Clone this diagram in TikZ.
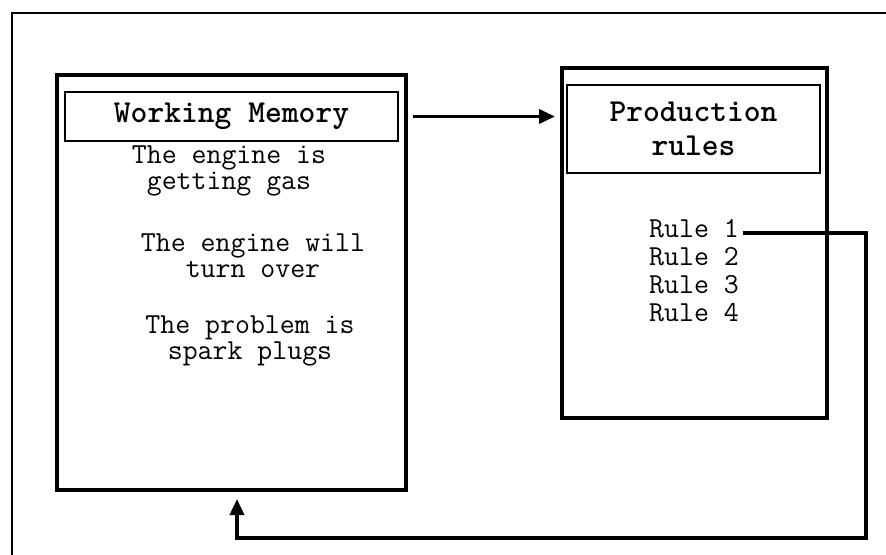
\documentclass[tikz,border=0pt]{standalone}
\usepackage{xcolor}
\usepackage{amsmath}
\usepackage{tikz}
\usetikzlibrary{positioning,calc,arrows.meta}
\tikzset{
  bigbox/.style={draw, line width=2pt, inner sep=0pt},
  titlebox/.style={draw, line width=1.2pt, inner sep=0pt, align=center,
    font=\ttfamily\bfseries\fontsize{16}{17}\selectfont},
  memtext/.style={align=center, inner sep=0pt,
    font=\ttfamily\fontsize{14.5}{13.2}\selectfont},
  ruletext/.style={inner sep=0pt, text height=9.2pt, text depth=4.4pt,
    font=\ttfamily\fontsize{14.5}{13}\selectfont},
  flow/.style={line width=1.8pt, -{Triangle[length=8pt,width=7pt]}}
}

\begin{document}
\begin{tikzpicture}[x=0.5pt,y=-0.5pt]
\useasboundingbox (0,0) rectangle (886,555);
              \draw[line width=0.8pt] (12,555)--(12,13)--(886,13);
\node[bigbox, minimum width=174.5pt, minimum height=207.5pt] (wm) at (231.5,282.5) {};
\node[titlebox, minimum width=166.5pt, minimum height=24.5pt] (wmtitle) at (231.5,116.5) {Working Memory};
\node[memtext] (fact1) at (229,171) {The engine is\\getting gas};
\node[memtext] (fact2) at (253,255.5) {The engine will\\turn over};
\node[memtext] (fact3) at (250,341) {The problem is\\spark plugs};
\node[bigbox, minimum width=132.5pt, minimum height=175pt] (prod) at (694.5,243) {};
\node[titlebox, minimum width=126.5pt, minimum height=44pt] (prodtitle) at (693.5,129) {Production\\rules};
\node[ruletext] (r1) at (694,233) {Rule 1};
\node[ruletext, below=0pt of r1] (r2) {Rule 2};
\node[ruletext, below=0pt of r2] (r3) {Rule 3};
\node[ruletext, below=0pt of r3] (r4) {Rule 4};
\coordinate (fbtop) at (866,233);
\coordinate (fbbot) at (866,538);
\draw[flow, shorten >=2.5pt] ([xshift=7pt]wmtitle.east) -- (prod.west |- wmtitle.east);
\draw[flow, shorten >=3.5pt] ([xshift=2pt]r1.east) -- (fbtop) -- (fbbot) -| ([xshift=2.75pt]wm.south);
              \end{tikzpicture}
\end{document}
